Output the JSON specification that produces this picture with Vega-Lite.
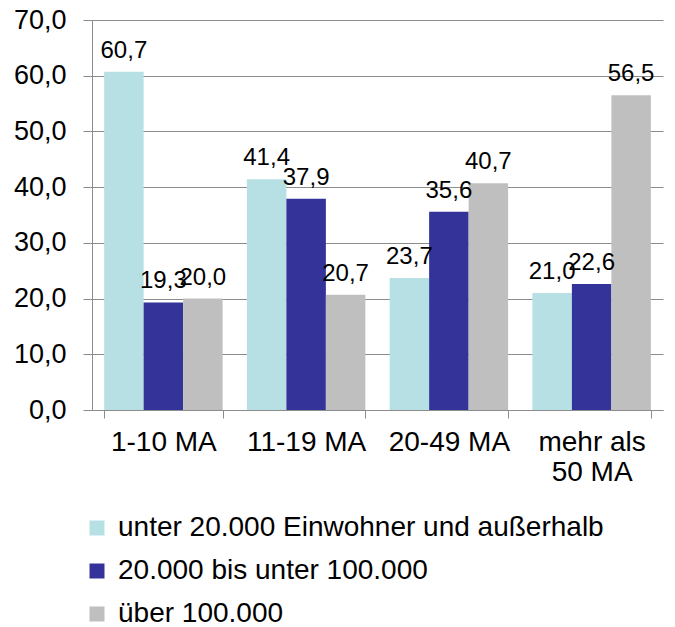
{
  "$schema": "https://vega.github.io/schema/vega-lite/v6.json",
  "autosize": "none",
  "width": 571,
  "height": 390,
  "padding": {"left": 92, "top": 20, "right": 12, "bottom": 217},
  "background": "white",
  "config": {
    "locale": {"number": {"decimal": ",", "thousands": ".", "grouping": [3], "currency": ["", " €"]}},
    "font": "Liberation Sans",
    "view": {"stroke": null}
  },
  "data": {
    "values": [
      {"cat": "1-10 MA", "grp": "unter 20.000 Einwohner und außerhalb", "o": 0, "v": 60.7},
      {"cat": "1-10 MA", "grp": "20.000 bis unter 100.000", "o": 1, "v": 19.3},
      {"cat": "1-10 MA", "grp": "über 100.000", "o": 2, "v": 20.0},
      {"cat": "11-19 MA", "grp": "unter 20.000 Einwohner und außerhalb", "o": 0, "v": 41.4},
      {"cat": "11-19 MA", "grp": "20.000 bis unter 100.000", "o": 1, "v": 37.9},
      {"cat": "11-19 MA", "grp": "über 100.000", "o": 2, "v": 20.7},
      {"cat": "20-49 MA", "grp": "unter 20.000 Einwohner und außerhalb", "o": 0, "v": 23.7},
      {"cat": "20-49 MA", "grp": "20.000 bis unter 100.000", "o": 1, "v": 35.6},
      {"cat": "20-49 MA", "grp": "über 100.000", "o": 2, "v": 40.7},
      {"cat": "mehr als 50 MA", "grp": "unter 20.000 Einwohner und außerhalb", "o": 0, "v": 21.0},
      {"cat": "mehr als 50 MA", "grp": "20.000 bis unter 100.000", "o": 1, "v": 22.6},
      {"cat": "mehr als 50 MA", "grp": "über 100.000", "o": 2, "v": 56.5}
    ]
  },
  "encoding": {
    "x": {
      "field": "cat", "type": "nominal", "sort": null,
      "scale": {"paddingInner": 0.17, "paddingOuter": 0.085},
      "axis": {
        "title": null, "labelAngle": 0, "tickBand": "extent",
        "domainColor": "#8c8c8c", "tickColor": "#8c8c8c", "tickSize": 8,
        "labelFontSize": 28, "labelColor": "#000000", "labelPadding": 10,
        "labelLineHeight": 30, "labelLimit": 300,
        "labelExpr": "datum.value == 'mehr als 50 MA' ? ['mehr als', '50 MA'] : datum.label"
      }
    },
    "xOffset": {"field": "o", "type": "ordinal", "scale": {"paddingInner": 0, "paddingOuter": 0}},
    "y": {
      "field": "v", "type": "quantitative",
      "scale": {"domain": [0, 70], "nice": false},
      "axis": {
        "title": null, "values": [0, 10, 20, 30, 40, 50, 60, 70], "format": ".1f",
        "domainColor": "#8c8c8c", "tickColor": "#8c8c8c", "gridColor": "#8c8c8c",
        "tickSize": 9, "labelFontSize": 27, "labelColor": "#000000", "labelPadding": 17
      }
    }
  },
  "layer": [
    {
      "mark": {"type": "bar"},
      "encoding": {
        "color": {
          "field": "grp", "type": "nominal",
          "sort": ["unter 20.000 Einwohner und außerhalb", "20.000 bis unter 100.000", "über 100.000"],
          "scale": {
            "domain": ["unter 20.000 Einwohner und außerhalb", "20.000 bis unter 100.000", "über 100.000"],
            "range": ["#b7e0e4", "#333399", "#bfbfbf"]
          },
          "legend": {
            "title": null, "orient": "none", "legendX": -9, "legendY": 494, "padding": 0,
            "direction": "vertical", "symbolType": "square", "symbolSize": 225,
            "symbolStrokeWidth": 0, "labelFontSize": 28, "labelColor": "#000000",
            "labelOffset": 7, "rowPadding": 15, "labelLimit": 600
          }
        }
      }
    },
    {
      "mark": {"type": "text", "baseline": "alphabetic", "dy": -14, "fontSize": 24, "color": "#000000"},
      "encoding": {
        "text": {"field": "v", "type": "quantitative", "format": ".1f"}
      }
    }
  ]
}
